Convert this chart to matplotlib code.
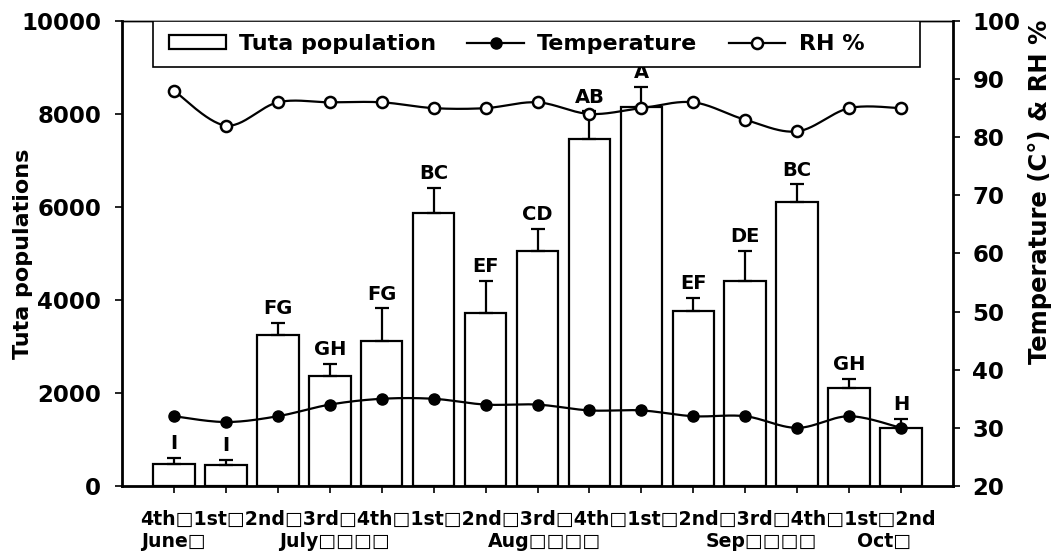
import numpy as np
import matplotlib
matplotlib.use("Agg")
import matplotlib.pyplot as plt
from matplotlib.patches import Patch, Rectangle
from matplotlib.lines import Line2D

plt.rcParams['font.family'] = ['DejaVu Sans']
plt.rcParams['font.weight'] = 'bold'

weeks = ["4th", "1st", "2nd", "3rd", "4th", "1st", "2nd", "3rd", "4th", "1st",
         "2nd", "3rd", "4th", "1st", "2nd"]
months = ["June\u25a1", "July\u25a1\u25a1\u25a1\u25a1", "Aug\u25a1\u25a1\u25a1\u25a1",
          "Sep\u25a1\u25a1\u25a1\u25a1", "Oct\u25a1"]
population = [480, 450, 3250, 2370, 3120, 5870, 3720, 5060, 7460, 8150, 3760, 4410, 6110, 2110, 1250]
pop_err = [130, 110, 260, 260, 700, 540, 690, 470, 600, 430, 280, 640, 380, 190, 190]
letters = ["I", "I", "FG", "GH", "FG", "BC", "EF", "CD", "AB", "A", "EF", "DE", "BC", "GH", "H"]
temperature = [32, 31, 32, 34, 35, 35, 34, 34, 33, 33, 32, 32, 30, 32, 30]
rh = [88, 82, 86, 86, 86, 85, 85, 86, 84, 85, 86, 83, 81, 85, 85]


def smooth(xs, ys, n=30):
    xs = np.asarray(xs, float); ys = np.asarray(ys, float)
    P = np.column_stack([xs, ys])
    out = []
    for i in range(len(P) - 1):
        p0 = P[i - 1] if i > 0 else P[i]
        p1 = P[i]; p2 = P[i + 1]
        p3 = P[i + 2] if i + 2 < len(P) else P[i + 1]
        c1 = p1 + (p2 - p0) / 6.0
        c2 = p2 - (p3 - p1) / 6.0
        t = np.linspace(0, 1, n)[:, None]
        seg = ((1 - t) ** 3) * p1 + 3 * ((1 - t) ** 2) * t * c1 + 3 * (1 - t) * t ** 2 * c2 + t ** 3 * p2
        out.append(seg if i == 0 else seg[1:])
    s = np.vstack(out)
    return s[:, 0], s[:, 1]


fig = plt.figure(figsize=(10.53, 5.51), dpi=100)
ax = fig.add_axes([0.1159, 0.118, 0.7891, 0.844])
x = np.arange(len(population))

ax.bar(x, population, width=0.8, color='white', edgecolor='black', linewidth=1.6, zorder=2)
ax.errorbar(x, population, yerr=[np.zeros(len(pop_err)), pop_err], fmt='none',
            ecolor='black', elinewidth=1.6, capsize=5, capthick=1.6, zorder=3)
for xi, p, e, lab in zip(x, population, pop_err, letters):
    ax.text(xi, p + e + 100, lab, ha='center', va='bottom', fontsize=14, fontweight='bold')

ax.set_xlim(-1, 15)
ax.set_ylim(0, 10000)
ax.set_yticks(np.arange(0, 10001, 2000))
ax.set_xticks(x)
ax.set_xticklabels([])
ax.tick_params(axis='both', direction='out', length=5, width=1.2, labelsize=16.5)
ax.tick_params(axis='y', pad=10)
for side in ['left', 'bottom']:
    ax.spines[side].set_linewidth(2)
ax.spines['top'].set_linewidth(1)
ax.set_ylabel("Tuta populations", fontsize=16, fontweight='bold')
ax.yaxis.set_label_coords(-0.107, 0.5)

ax2 = ax.twinx()
ax2.set_ylim(20, 100)
ax2.set_yticks(np.arange(20, 101, 10))
ax2.tick_params(axis='y', direction='out', length=5, width=1.2, labelsize=16.5, pad=9)
ax2.spines['right'].set_linewidth(2)
ax2.spines['left'].set_visible(False)
ax2.spines['bottom'].set_visible(False)
ax2.spines['top'].set_linewidth(1)

sx, sy = smooth(x, temperature)
ax2.plot(sx, sy, color='black', lw=1.6, zorder=4)
ax2.plot(x, temperature, 'o', color='black', ms=8, zorder=5)
rx, ry = smooth(x, rh)
ax2.plot(rx, ry, color='black', lw=1.6, zorder=4)
ax2.plot(x, rh, 'o', mfc='white', mec='black', mew=1.8, ms=8, zorder=5)
ax2.set_ylabel("Temperature (C\u00b0) & RH %", fontsize=17.5, fontweight='bold')
ax2.yaxis.set_label_coords(1.0905, 0.633)

# x labels
row1 = "\u25a1".join(weeks)
ax.text(0.5, -0.051, row1, transform=ax.transAxes, ha='center', va='top',
        fontsize=13.6, fontweight='bold')
month_pos = [-0.64, 2.02, 6.04, 10.23, 13.15]
for mx, m in zip(month_pos, months):
    ax.text(mx, -0.098, m, transform=ax.get_xaxis_transform(), ha='left', va='top',
            fontsize=13.6, fontweight='bold')

# legend
frame = Rectangle((0.0373, 0.901), 0.923, 0.099, transform=ax2.transAxes,
                  facecolor='white', edgecolor='black', lw=1.2, zorder=10)
ax2.add_patch(frame)
handles = [Patch(facecolor='white', edgecolor='black', linewidth=1.6),
           Line2D([], [], color='black', lw=1.6, marker='o', ms=8),
           Line2D([], [], color='black', lw=1.6, marker='o', ms=8, mfc='white', mew=1.8)]
leg = ax2.legend(handles, ["Tuta population", "Temperature", "RH %"], ncol=3,
                 loc='center left', bbox_to_anchor=(0.0565, 0.9505),
                 frameon=False, borderaxespad=0, borderpad=0,
                 prop={'size': 16, 'weight': 'bold'},
                 handlelength=2.55, handleheight=0.55, handletextpad=0.6,
                 columnspacing=1.4)
leg.set_zorder(11)

fig.savefig("out.png", dpi=100)
